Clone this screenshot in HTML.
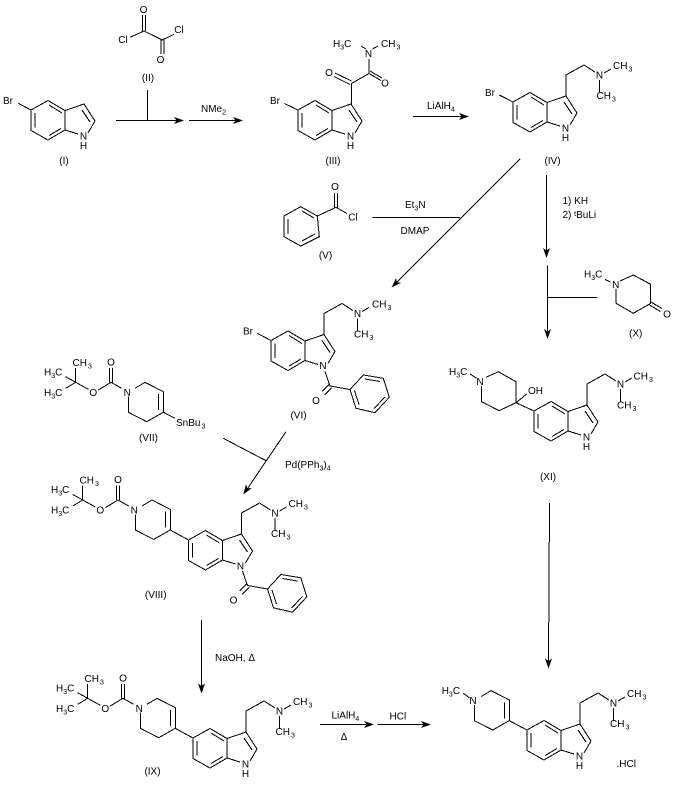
<!DOCTYPE html>
<html><head><meta charset="utf-8"><style>
html,body{margin:0;padding:0;background:#fff}
svg{display:block}
text{font-family:"Liberation Sans",sans-serif;font-size:10px;fill:#000}
.m{text-anchor:middle}
.s{font-size:7px}
path{fill:none;stroke:#000;stroke-width:1;shape-rendering:crispEdges}
.h{fill:#000;stroke:none;shape-rendering:auto}
</style></head><body>
<svg xmlns="http://www.w3.org/2000/svg" width="678" height="789" viewBox="0 0 678 789">
<defs>
<path id="ind" d="M0 0L17-9.5L34 .5V20L17 30L0 20.5Z M4 3V17.5 M18-5L31 3 M18 25.5L30 18.5 M34 .5L53-6L64 11L57 23 M34 20L47 24 M51 0L59 12 M53-6V-27L71-37L82-30 M86.5-22V-9 M91-29L98-33"/>
<path id="bz" d="M54 31L59 45.5L79 49L92.3 34.5L112.3 37.8L118.3 56.8L104 72.2L85 67.8L79 49 M94 38.5L109 41 M88 64L83.5 50 M114 56.5L103 68 M58 44L51 51 M60.5 47.5L53.5 54.5"/>
<path id="ring" d="M135 388.3L145 382.3L163.3 391.7V412.3L146.7 421.7L128.3 412.3V396.7 M158.7 394V410"/>
<path id="boc" d="M65.7 376.7L75.7 382.3V368 M75.7 382.3L65.7 388.3 M75.7 382.3L88.3 389.3 M98.3 390L111 382.3L121.7 388.3 M109.5 382.3V368 M112.5 382.3V368"/>
<polygon id="ah" class="h" points="0,0 -10,-3.5 -7.5,0 -10,3.5"/>
</defs>

<!-- I -->
<text x="3" y="104">Br</text>
<path d="M18.3 103.3L31 110"/>
<g transform="translate(31,110)"><path d="M0 0L17-9.5L34 .5V20L17 30L0 20.5Z M4 3V17.5 M18-5L31 3 M18 25.5L30 18.5 M34 .5L53-6L64 11L57 23 M34 20L47 24 M51 0L59 12"/>
<text class="m" x="52.5" y="29.5">N</text><text class="m" x="52.5" y="39">H</text></g>
<text class="m" x="64" y="164">(I)</text>

<!-- II -->
<text class="m" x="143.5" y="13">O</text>
<path d="M142.5 31V15 M145.5 31V15 M130 37.3L144 31L162.3 40L174 34.3 M161 40V54 M164 40V54"/>
<text class="m" x="123" y="43">Cl</text>
<text class="m" x="179" y="33">Cl</text>
<text class="m" x="160.5" y="63">O</text>
<text class="m" x="148" y="81">(II)</text>

<!-- arrows top -->
<path d="M116 120.5H180 M147.5 90V120.5 M189 120.5H238"/>
<use href="#ah" transform="translate(184,120.5)"/>
<use href="#ah" transform="translate(243,120.5)"/>
<text x="201" y="112">NMe<tspan class="s" dy="2.5">2</tspan></text>

<!-- III -->
<text x="270" y="104">Br</text>
<path d="M284.5 103.5L298 110"/>
<g transform="translate(298,110)"><path d="M0 0L17-9.5L34 .5V20L17 30L0 20.5Z M4 3V17.5 M18-5L31 3 M18 25.5L30 18.5 M34 .5L53-6L64 11L57 23 M34 20L47 24 M51 0L59 12"/>
<text class="m" x="52.5" y="29.5">N</text><text class="m" x="52.5" y="39">H</text></g>
<path d="M351.5 104V83.5L369 73.5V59 M351.5 81L335 73 M350 84.5L334 76.5 M369 73.5L381 80.5 M370 71L382 78 M361 46L366 49 M372.5 49L378 46"/>
<text class="m" x="329" y="76">O</text>
<text class="m" x="385" y="86.5">O</text>
<text class="m" x="368.5" y="57">N</text>
<text x="333" y="47">H<tspan class="s" dy="2.5">3</tspan><tspan dy="-2.5">C</tspan></text>
<text x="381" y="47">CH<tspan class="s" dx="1" dy="2.5">3</tspan></text>
<text class="m" x="333" y="164">(III)</text>

<!-- arrow LiAlH4 -->
<path d="M413 116.5H464"/>
<use href="#ah" transform="translate(469,116.5)"/>
<text x="427" y="109">LiAlH<tspan class="s" dy="2.5">4</tspan></text>

<!-- IV -->
<text x="485" y="96">Br</text>
<path d="M499.3 95L513 102"/>
<g transform="translate(513,102)"><use href="#ind"/>
<text class="m" x="52.5" y="29.5">N</text><text class="m" x="52.5" y="39">H</text>
<text class="m" x="86.5" y="-23.5">N</text>
<text x="100" y="-33">CH<tspan class="s" dx="1" dy="2.5">3</tspan></text>
<text x="83.5" y="-3">CH<tspan class="s" dx="1" dy="2.5">3</tspan></text></g>
<text class="m" x="552.5" y="164">(IV)</text>

<!-- IV to VI -->
<path d="M520 159L395 284 M372.5 217.5H460"/>
<use href="#ah" transform="translate(391.5,287.5) rotate(135)"/>
<text x="405" y="208">Et<tspan class="s" dy="2.5">3</tspan><tspan dy="-2.5">N</tspan></text>
<text class="m" x="415" y="234">DMAP</text>

<!-- IV to XI -->
<path d="M546.5 175V253"/>
<use href="#ah" transform="translate(546.5,258) rotate(90)"/>
<text x="562.5" y="204">1) KH</text>
<text x="562.5" y="218">2) <tspan class="s" dy="-2">t</tspan><tspan dy="2">BuLi</tspan></text>

<!-- V -->
<path d="M317.3 216L300.7 206.7L284 216V236.7L300.7 246L319.3 236.7L317.3 216L336 207.3L347 213.5 M288 219V234 M302 211L314 218 M302 241L315 234 M334.5 207.3V193 M337.5 207.3V193"/>
<text class="m" x="335" y="190">O</text>
<text class="m" x="353" y="220.5">Cl</text>
<text class="m" x="325.5" y="258.5">(V)</text>

<!-- VI -->
<text x="243" y="334.5">Br</text>
<path d="M257.3 333.3L271 340.5"/>
<g transform="translate(271,340.5)"><use href="#ind"/><use href="#bz"/>
<text class="m" x="52" y="28.5">N</text>
<text class="m" x="45" y="63.5">O</text>
<text class="m" x="86.5" y="-23.5">N</text>
<text x="101" y="-33">CH<tspan class="s" dx="1" dy="2.5">3</tspan></text>
<text x="83" y="-3">CH<tspan class="s" dx="1" dy="2.5">3</tspan></text></g>
<text class="m" x="298.5" y="418.5">(VI)</text>

<!-- VII -->
<use href="#ring"/><use href="#boc"/>
<path d="M163.3 412.3L175 418.3"/>
<text class="m" x="127.3" y="396">N</text>
<text class="m" x="111" y="365.5">O</text>
<text class="m" x="93.3" y="396">O</text>
<text x="72.5" y="366">CH<tspan class="s" dx="1" dy="2.5">3</tspan></text>
<text x="44" y="375.5">H<tspan class="s" dy="2.5">3</tspan><tspan dy="-2.5">C</tspan></text>
<text x="44" y="396">H<tspan class="s" dy="2.5">3</tspan><tspan dy="-2.5">C</tspan></text>
<text x="176" y="426">SnBu<tspan class="s" dx="1" dy="2.5">3</tspan></text>
<text class="m" x="148.5" y="441">(VII)</text>

<!-- VI to VIII -->
<path d="M223.3 438.3L266 460.7 M286 431.7L246.500 490"/>
<use href="#ah" transform="translate(243.3,494.5) rotate(124)"/>
<text x="285" y="468">Pd(PPh<tspan class="s" dy="2.5">3</tspan><tspan dy="-2.5">)</tspan><tspan class="s" dy="2.5">4</tspan></text>

<!-- VIII -->
<g transform="translate(7,117.7)"><use href="#ring"/><use href="#boc"/>
<text class="m" x="127.3" y="396">N</text>
<text class="m" x="111" y="365.5">O</text>
<text class="m" x="93.3" y="396">O</text>
<text x="72.5" y="366">CH<tspan class="s" dx="1" dy="2.5">3</tspan></text>
<text x="44" y="375.5">H<tspan class="s" dy="2.5">3</tspan><tspan dy="-2.5">C</tspan></text>
<text x="44" y="396">H<tspan class="s" dy="2.5">3</tspan><tspan dy="-2.5">C</tspan></text></g>
<path d="M170.3 530L188.5 540"/>
<g transform="translate(188.5,540)"><use href="#ind"/><use href="#bz"/>
<text class="m" x="52" y="29.5">N</text>
<text class="m" x="45" y="63.5">O</text>
<text class="m" x="86.5" y="-23.5">N</text>
<text x="100" y="-33">CH<tspan class="s" dx="1" dy="2.5">3</tspan></text>
<text x="82.5" y="-3">CH<tspan class="s" dx="1" dy="2.5">3</tspan></text></g>
<text class="m" x="155.7" y="598">(VIII)</text>

<!-- VIII to IX -->
<path d="M201.5 620V688"/>
<use href="#ah" transform="translate(201.5,693.5) rotate(90)"/>
<text x="215" y="661">NaOH, Δ</text>

<!-- IX -->
<g transform="translate(12,316)"><use href="#ring"/><use href="#boc"/>
<text class="m" x="127.3" y="396">N</text>
<text class="m" x="111" y="365.5">O</text>
<text class="m" x="93.3" y="396">O</text>
<text x="72.5" y="366">CH<tspan class="s" dx="1" dy="2.5">3</tspan></text>
<text x="44" y="375.5">H<tspan class="s" dy="2.5">3</tspan><tspan dy="-2.5">C</tspan></text>
<text x="44" y="396">H<tspan class="s" dy="2.5">3</tspan><tspan dy="-2.5">C</tspan></text></g>
<path d="M175.3 728.3L193 738"/>
<g transform="translate(193,738)"><use href="#ind"/>
<text class="m" x="52.5" y="29.5">N</text><text class="m" x="52.5" y="39">H</text>
<text class="m" x="86.5" y="-23.5">N</text>
<text x="100" y="-33">CH<tspan class="s" dx="1" dy="2.5">3</tspan></text>
<text x="82.5" y="-3">CH<tspan class="s" dx="1" dy="2.5">3</tspan></text></g>
<text class="m" x="152.5" y="774.5">(IX)</text>

<!-- bottom arrows -->
<path d="M320 724.5H370 M377.5 724.5H427"/>
<use href="#ah" transform="translate(374,724.5)"/>
<use href="#ah" transform="translate(431,724.5)"/>
<text x="331.5" y="718.5">LiAlH<tspan class="s" dy="2.5">4</tspan></text>
<text class="m" x="344" y="740">Δ</text>
<text x="389.5" y="719.5">HCl</text>

<!-- X -->
<path d="M610.7 282.3L605 279.3 M620 281L633.3 275L650.7 284.3V303.3L633.3 313.3L616 303.3V289 M650.7 301.8L662 308.5 M649.2 304.8L660.5 311.5"/>
<text class="m" x="615.7" y="288">N</text>
<text x="584" y="277.5">H<tspan class="s" dy="2.5">3</tspan><tspan dy="-2.5">C</tspan></text>
<text class="m" x="667" y="317.5">O</text>
<text class="m" x="635.7" y="336.5">(X)</text>

<!-- vertical with X -->
<path d="M547.5 265.7V334 M547.5 297.5H597.7"/>
<use href="#ah" transform="translate(547.5,339) rotate(90)"/>

<!-- XI -->
<path d="M470 374L476.7 378.3 M486 377.3L498.3 371.7L516 381.7V402.7L499 410.7L481.7 401.7V386 M516 402.7L534 411 M516 402.7L526.7 394"/>
<text class="m" x="480" y="385">N</text>
<text x="449" y="375">H<tspan class="s" dy="2.5">3</tspan><tspan dy="-2.5">C</tspan></text>
<text x="528" y="394">OH</text>
<g transform="translate(534,411)"><use href="#ind"/>
<text class="m" x="52.5" y="29.5">N</text><text class="m" x="52.5" y="39">H</text>
<text class="m" x="86.5" y="-23.5">N</text>
<text x="99.5" y="-31.5">CH<tspan class="s" dx="1" dy="2.5">3</tspan></text>
<text x="83" y="-2.5">CH<tspan class="s" dx="1" dy="2.5">3</tspan></text></g>
<text class="m" x="548" y="480">(XI)</text>

<!-- long arrow -->
<path d="M549.5 503L548.5 664"/>
<use href="#ah" transform="translate(548.5,668.5) rotate(90)"/>

<!-- final -->
<g transform="translate(346,308.3)"><use href="#ring"/></g>
<path d="M463.3 693.3L469.3 697.7 M509.3 720.7L527 730"/>
<text class="m" x="473" y="704">N</text>
<text x="441.7" y="694">H<tspan class="s" dy="2.5">3</tspan><tspan dy="-2.5">C</tspan></text>
<g transform="translate(527,730)"><use href="#ind"/>
<text class="m" x="52.5" y="29.5">N</text><text class="m" x="52.5" y="39">H</text>
<text class="m" x="86.5" y="-23.5">N</text>
<text x="100" y="-33">CH<tspan class="s" dx="1" dy="2.5">3</tspan></text>
<text x="83" y="-3">CH<tspan class="s" dx="1" dy="2.5">3</tspan></text></g>
<text x="616.5" y="767">.HCl</text>
</svg>
</body></html>
